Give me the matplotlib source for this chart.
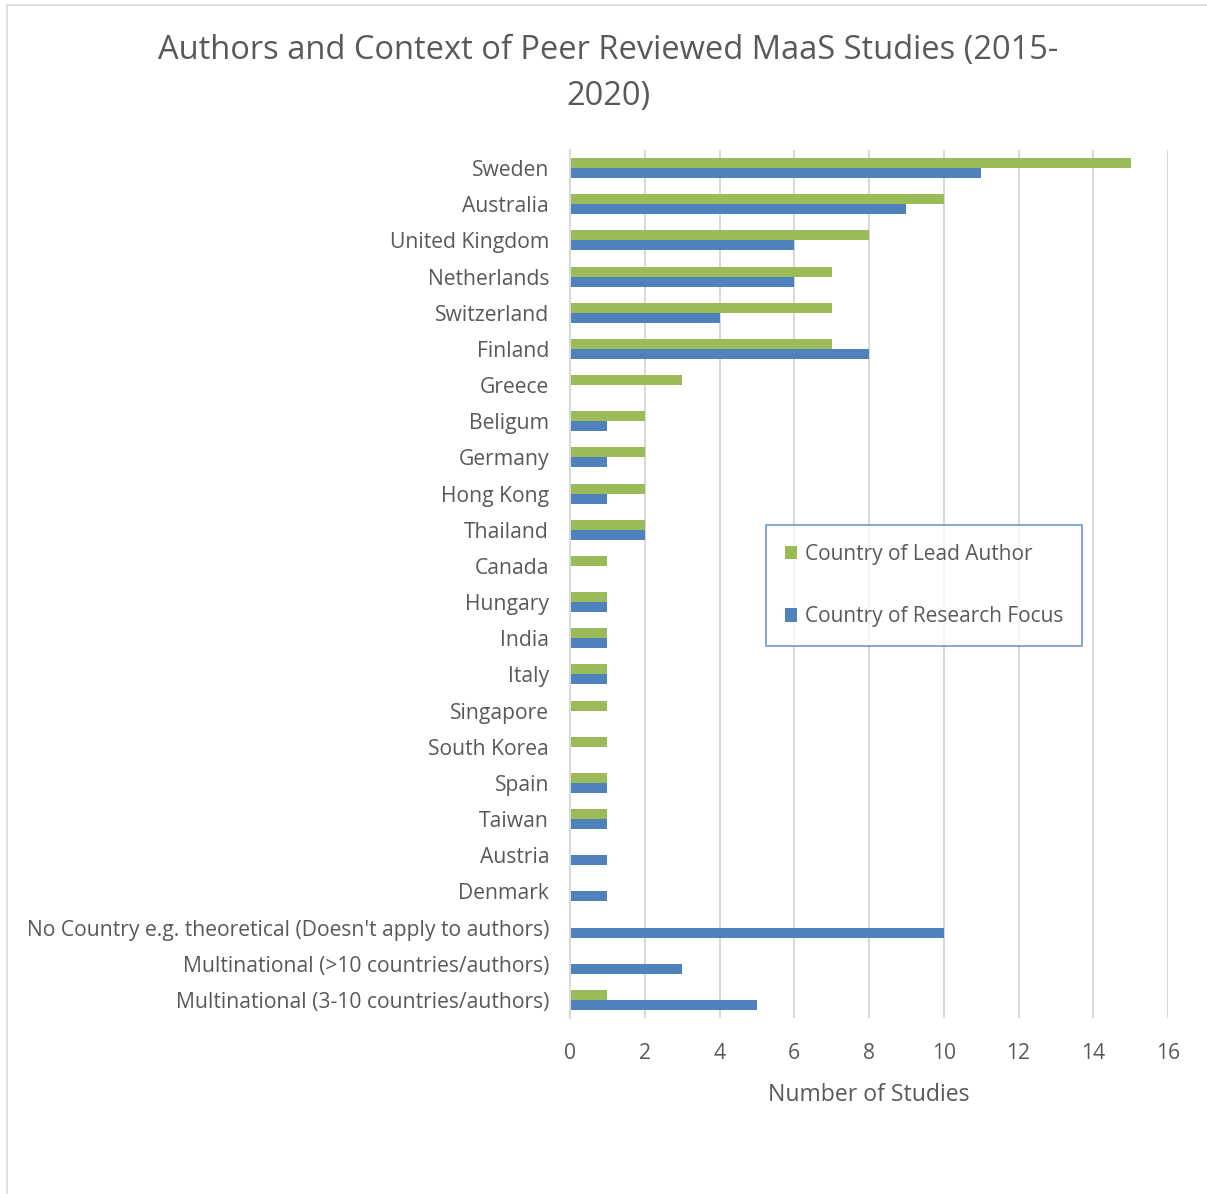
import matplotlib
matplotlib.use("Agg")
import matplotlib.pyplot as plt
import numpy as np
from matplotlib.patches import Rectangle

categories = ["Sweden", "Australia", "United Kingdom", "Netherlands", "Switzerland",
              "Finland", "Greece", "Beligum", "Germany", "Hong Kong", "Thailand",
              "Canada", "Hungary", "India", "Italy", "Singapore", "South Korea",
              "Spain", "Taiwan", "Austria", "Denmark",
              "No Country e.g. theoretical (Doesn't apply to authors)",
              "Multinational (>10 countries/authors)",
              "Multinational (3-10 countries/authors)"]
lead_author = [15, 10, 8, 7, 7, 7, 3, 2, 2, 2, 2, 1, 1, 1, 1, 1, 1, 1, 1, 0, 0, 0, 0, 1]
research_focus = [11, 9, 6, 6, 4, 8, 0, 1, 1, 1, 2, 0, 1, 1, 1, 0, 0, 1, 1, 1, 1, 10, 3, 5]
xticks = [0, 2, 4, 6, 8, 10, 12, 14, 16]

GREEN = "#9BBB59"
BLUE = "#4F81BD"
TEXT = "#595959"
GRID = "#D9D9D9"

plt.rcParams['font.family'] = ['Open Sans', 'DejaVu Sans']

W, H = 1207, 1194
fig = plt.figure(figsize=(W / 100, H / 100), dpi=100)
fig.patch.set_facecolor("white")

# outer chart border (light gray)
fig.add_artist(Rectangle((7 / W, -0.01), 1.2, 1 - 5 / H + 0.01, transform=fig.transFigure,
                         fill=False, edgecolor="#D9D9D9", linewidth=1.2))

ax = fig.add_axes([570 / W, 1 - 1018 / H, (1168 - 570) / W, (1018 - 150) / H])

y = np.arange(len(categories))
h = 0.275
ax.barh(y - h / 2, lead_author, height=h, color=GREEN, label="Country of Lead Author", zorder=3)
ax.barh(y + h / 2, research_focus, height=h, color=BLUE, label="Country of Research Focus", zorder=3)

ax.set_ylim(len(categories) - 0.5, -0.5)
ax.set_xlim(0, 16)
ax.set_xticks(xticks)
ax.set_yticks(y)
ax.set_yticklabels(categories)
ax.tick_params(axis='both', length=0, labelsize=15.2, colors=TEXT)
ax.tick_params(axis='y', pad=15)
ax.tick_params(axis='x', pad=18)
ax.grid(axis='x', color=GRID, linewidth=1.5, zorder=0)
for s in ["top", "right", "bottom"]:
    ax.spines[s].set_visible(False)
ax.spines["left"].set_color(GRID)
ax.spines["left"].set_linewidth(1.5)
ax.spines["left"].set_zorder(4)

ax.set_xlabel("Number of Studies", fontsize=16.6, color=TEXT, labelpad=14)

fig.text(608 / W, 1 - 50 / H, "Authors and Context of Peer Reviewed MaaS Studies (2015-",
         ha="center", va="center", fontsize=23.5, color=TEXT)
fig.text(608 / W, 1 - 96 / H, "2020)", ha="center", va="center", fontsize=23.5, color=TEXT)

leg = ax.legend(loc="upper left", bbox_to_anchor=((766 - 570) / (1168 - 570), 1 - (525 - 150) / (1018 - 150)),
                fontsize=15, frameon=True, fancybox=False, labelspacing=2.0,
                handlelength=0.6, handleheight=0.6, handletextpad=0.35,
                borderpad=0.9, borderaxespad=0)
leg.get_frame().set_edgecolor(BLUE)
leg.get_frame().set_linewidth(1.2)
for t in leg.get_texts():
    t.set_color(TEXT)

fig.savefig("out.png", dpi=100, facecolor="white")
